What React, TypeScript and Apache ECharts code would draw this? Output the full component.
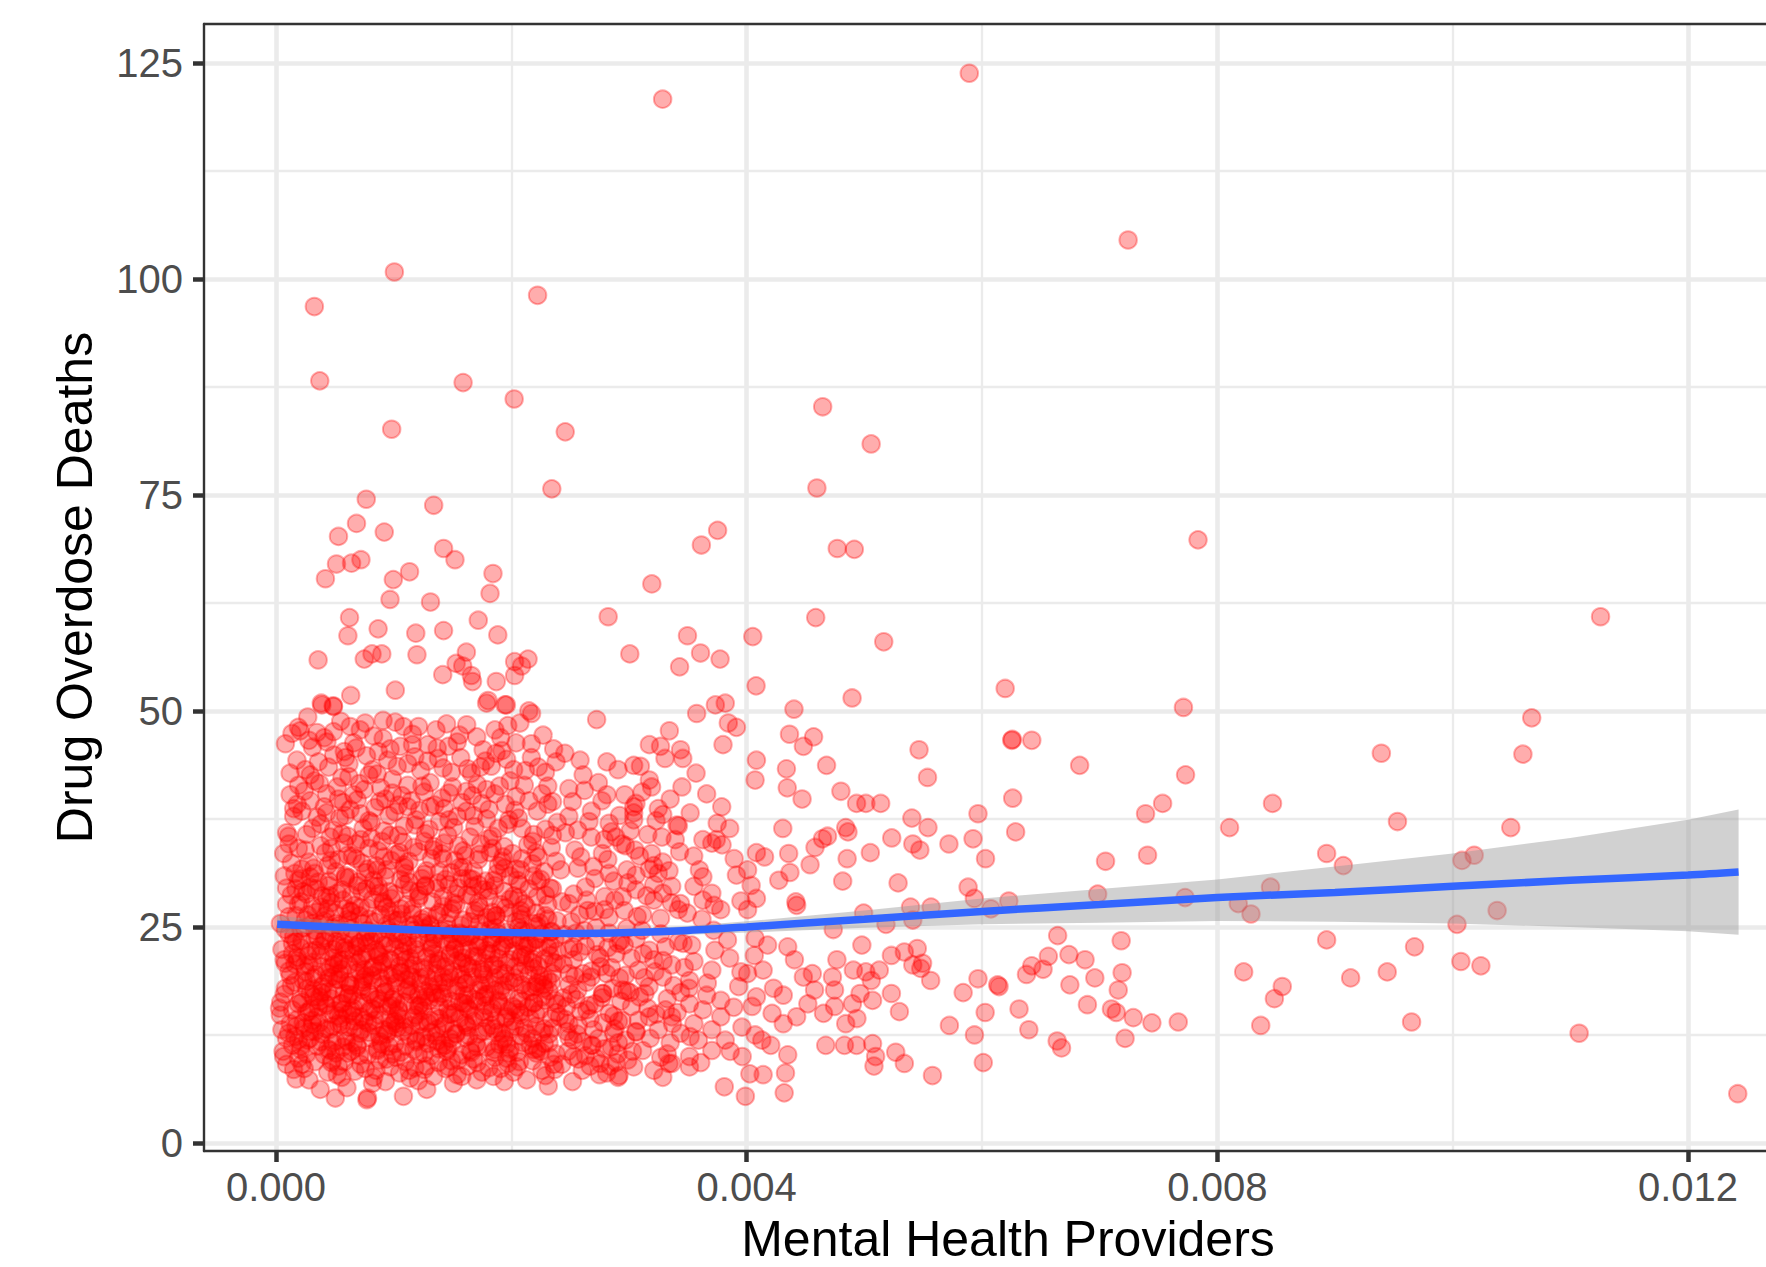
import React, { useEffect, useRef } from "react";
import * as echarts from "echarts";

const FONT = "'Liberation Sans', Arial, Helvetica, sans-serif";

const X_TICKS = [0, 0.004, 0.008, 0.012];
const X_MINOR = [0.002, 0.006, 0.01];
const Y_TICKS = [0, 25, 50, 75, 100, 125];
const Y_MINOR = [12.5, 37.5, 62.5, 87.5, 112.5];
const X_LIMITS = [-0.000612, 0.013054];
const Y_LIMITS = [-0.93, 129.5];

// smoother (fit + 95% band)
const smoothX = [0.00001, 0.0005, 0.001, 0.0015, 0.002, 0.0025, 0.003, 0.0035, 0.004, 0.005, 0.006, 0.007, 0.008, 0.009, 0.010, 0.011, 0.012, 0.01243];
const smoothY = [25.3, 25.0, 24.75, 24.5, 24.35, 24.25, 24.35, 24.6, 25.0, 25.9, 26.8, 27.6, 28.4, 29.0, 29.7, 30.4, 31.0, 31.35];
const smoothUpper = [26.3, 25.65, 25.2, 24.85, 24.65, 24.6, 24.75, 25.1, 25.65, 26.9, 28.3, 29.4, 30.5, 32.0, 33.5, 35.3, 37.4, 38.6];
const smoothLower = [24.3, 24.35, 24.3, 24.15, 24.05, 23.9, 23.95, 24.1, 24.35, 24.9, 25.3, 25.5, 25.7, 25.6, 25.4, 25.0, 24.5, 24.1];

// points above 50 deaths
const upperPoints = [
  [.003286,120.8],[.005892,123.8],[.007242,104.5],[.001006,100.8],[.000326,96.8],[.002223,98.1],
  [.000372,88.2],[.00159,88.0],[.002024,86.1],[.000983,82.6],[.002458,82.3],[.004646,85.2],[.005058,80.9],
  [.002344,75.7],[.004597,75.8],[.000767,74.5],[.00134,73.8],[.000684,71.7],[.00092,70.7],[.000531,70.2],
  [.003753,70.9],[.003615,69.2],[.007836,69.8],[.00477,68.8],[.004915,68.7],[.001424,68.8],[.001521,67.5],
  [.000514,67.0],[.000642,67.1],[.000722,67.5],[.00042,65.3],[.000997,65.2],[.001135,66.1],[.001844,65.9],
  [.001819,63.6],[.000969,62.9],[.001313,62.6],[.003194,64.7],[.002823,60.9],[.004587,60.8],[.000625,60.8],
  [.000611,58.7],[.000868,59.5],[.001188,59.0],[.001424,59.3],[.001719,60.5],[.001885,58.8],
  [.000358,55.9],[.00075,56.0],[.000816,56.6],[.000899,56.6],[.001198,56.5],[.001618,56.8],[.001531,55.5],[.001587,55.2],
  [.001417,54.2],[.00166,54.1],[.00167,53.4],[.001872,53.4],[.002028,55.7],[.002142,56.0],[.002087,55.2],[.002028,54.1],
  [.003497,58.7],[.003007,56.6],[.00343,55.1],[.003608,56.7],[.003774,56.0],[.004052,58.6],[.00408,52.9],
  [.005165,58.0],[.011257,60.9],
  [.000635,51.8],[.001014,52.4],[.000385,50.9],[.000486,50.6],[.001802,51.2],[.001958,50.7],[.002149,50.0],
  [.00039,50.7],[.000489,50.5],[.00179,50.9],[.001946,50.7],
  [.004896,51.5],[.006197,52.6],[.007712,50.4],[.004402,50.2],[.003734,50.7],[.003818,50.9]
];

// dense block, x < 0.0012
const corePointsA = [
  [.000136,47.4],[.00019,48.1],[.00008,46.2],[.000178,44.3],[.000192,41.4],[.00012,42.8],
  [.00015,37.8],[.000107,35.5],[.00018,39.2],[.000065,33.5],[.00016,31.2],[.00011,34.6],[.00019,30.4],
  [.000037,25.4],[.00013,28.7],[.00017,26.3],[.00009,29.5],[.00019,27.6],
  [.000079,20.8],[.00014,23.1],[.00005,22.4],[.00018,21.5],[.00011,24.2],
  [.00016,18.6],[.00007,17.2],[.00012,19.4],[.00019,16.1],[.00003,15.6],
  [.000037,14.8],[.000107,12.7],[.000065,10.0],[.00017,13.5],[.00014,11.3],[.00015,8.5],[.00009,9.1],

  [.000206,47.7],[.000348,47.5],[.00027,49.3],[.00031,45.8],
  [.000291,42.6],[.00036,44.1],[.00024,40.7],[.00033,41.9],
  [.00022,38.4],[.00038,36.9],[.00029,39.6],[.00026,35.7],[.00035,37.7],
  [.000249,33.9],[.00032,31.8],[.00038,34.4],[.00021,30.6],[.00028,32.5],[.00036,30.2],
  [.00023,29.1],[.00031,27.4],[.00039,28.6],[.00025,25.8],[.00034,26.7],[.00021,27.9],[.00037,25.3],[.00029,29.6],
  [.00022,23.4],[.00033,24.6],[.00027,21.7],[.00038,22.8],[.00024,20.5],[.00031,20.9],[.00035,23.9],[.00029,22.2],[.00021,24.8],
  [.00026,18.7],[.00034,19.5],[.00039,17.4],[.00022,16.3],[.00030,15.6],[.00037,16.9],[.00025,19.8],[.00032,17.8],[.00028,15.2],
  [.00023,13.9],[.00035,14.6],[.00029,12.1],[.00038,11.7],[.00021,10.8],[.00033,12.9],[.00026,10.3],[.00031,14.2],
  [.000376,6.2],[.00024,8.6],[.00033,9.4],[.00028,7.3],

  [.000489,47.6],[.000433,46.4],[.00055,48.8],[.00058,45.3],
  [.000447,43.5],[.00052,41.2],[.00059,44.6],[.00043,40.4],[.00056,42.3],
  [.00041,38.9],[.00049,36.2],[.00057,39.4],[.00046,35.4],[.00054,37.6],
  [.00042,33.6],[.00051,31.4],[.00058,34.7],[.00045,30.3],[.00053,32.8],[.00047,34.1],[.00059,30.9],
  [.00043,28.4],[.00050,26.6],[.00056,29.3],[.00041,25.7],[.00047,27.8],[.00054,25.2],[.00059,27.1],[.00045,29.8],[.00052,28.9],
  [.00042,23.7],[.00049,21.4],[.00055,24.5],[.00046,20.3],[.00058,22.6],[.00051,23.3],[.00044,22.1],[.00053,20.8],[.00048,24.9],[.00057,21.2],
  [.00041,18.4],[.00047,16.7],[.00054,19.6],[.00050,15.3],[.00058,17.3],[.00043,15.9],[.00052,18.9],[.00056,16.2],[.00045,19.1],[.00049,17.8],
  [.00042,13.2],[.00048,11.6],[.00055,14.4],[.00051,10.4],[.00059,12.3],[.00044,10.9],[.00053,13.8],[.00046,14.9],[.00057,11.1],
  [.000504,5.2],[.00044,8.2],[.00056,7.6],[.00048,9.5],[.00053,8.9],

  [.000631,48.2],[.000716,47.8],[.000758,48.6],[.00068,45.7],
  [.00062,43.9],[.00071,41.6],[.00077,44.8],[.00066,40.3],
  [.00063,38.6],[.00074,36.4],[.00069,39.7],[.00079,37.3],[.00061,35.5],[.00072,38.1],
  [.00065,33.2],[.00076,31.3],[.00068,34.6],[.00062,30.7],[.00073,32.4],[.00079,34.1],[.00070,30.2],
  [.00064,28.7],[.00071,26.3],[.00077,29.4],[.00061,25.9],[.00067,27.5],[.00074,25.4],[.00069,29.8],[.00078,27.2],[.00063,26.8],
  [.00066,23.6],[.00072,21.3],[.00078,24.4],[.00062,20.6],[.00069,22.7],[.00075,20.1],[.00064,24.8],[.00071,23.1],[.00077,21.9],[.00060,22.3],
  [.00063,18.2],[.00070,16.4],[.00076,19.3],[.00066,15.6],[.00073,17.7],[.00079,15.2],[.00061,16.8],[.00068,19.7],[.00074,18.6],[.00065,17.1],
  [.00062,13.4],[.00069,11.3],[.00075,14.2],[.00064,10.6],[.00071,12.7],[.00078,10.2],[.00066,14.7],[.00073,13.1],[.00060,11.8],
  [.000603,6.4],[.000772,5.0],[.000778,5.2],[.00067,8.3],[.00072,9.1],

  [.00083,47.1],[.00091,48.9],[.00097,45.6],
  [.00082,43.2],[.00089,41.1],[.00095,44.3],[.00086,42.7],[.00099,40.5],
  [.00084,38.8],[.00092,36.1],[.00088,39.5],[.00096,37.9],[.00081,35.3],
  [.00087,33.8],[.00094,31.6],[.00083,30.4],[.00090,34.9],[.00098,32.7],[.00085,32.1],[.00093,30.8],
  [.00082,28.2],[.00089,26.4],[.00096,29.1],[.00084,25.6],[.00091,27.7],[.00099,25.9],[.00087,29.7],[.00094,27.3],
  [.00081,23.4],[.00088,21.6],[.00095,24.7],[.00083,20.4],[.00092,22.9],[.00098,21.1],[.00086,24.2],[.00090,20.7],[.00097,23.1],[.00085,22.4],
  [.00082,18.8],[.00089,16.1],[.00096,19.4],[.00084,15.4],[.00093,17.5],[.00099,16.6],[.00087,19.9],[.00091,18.3],[.00080,17.2],[.00095,15.8],
  [.00083,13.6],[.00090,11.4],[.00097,14.3],[.00086,10.7],[.00094,12.6],[.00081,12.2],[.00088,14.8],[.00099,10.3],[.00092,13.1],
  [.00085,8.4],[.00093,7.1],[.00088,9.6],[.00097,8.8],[.00082,6.9],

  [.001013,48.7],[.001083,48.2],[.001055,45.9],[.00116,47.3],
  [.00103,43.6],[.00112,41.4],[.00118,44.7],[.00107,40.2],
  [.00101,38.3],[.00109,36.7],[.00115,39.6],[.00104,35.6],[.00119,37.4],[.00112,38.9],
  [.00102,33.4],[.00110,31.2],[.00117,34.2],[.00106,30.5],[.00113,32.6],[.00108,34.8],
  [.00101,28.8],[.00107,26.5],[.00114,29.2],[.00104,25.8],[.00111,27.6],[.00118,25.3],[.00109,29.9],[.00116,27.1],
  [.00103,23.5],[.00110,21.2],[.00117,24.6],[.00105,20.5],[.00112,22.8],[.00119,21.7],[.00101,24.3],[.00108,23.1],[.00114,20.2],
  [.00102,18.5],[.00109,16.3],[.00116,19.2],[.00104,15.5],[.00111,17.6],[.00118,15.9],[.00106,19.8],[.00113,18.1],[.00100,16.9],[.00115,17.2],
  [.00103,13.3],[.00110,11.2],[.00117,14.5],[.00106,10.5],[.00113,12.4],[.00119,11.7],[.00101,14.1],[.00108,12.9],
  [.001083,5.4],[.00105,8.1],[.00114,7.5],[.00110,9.4],[.00118,8.7]
];

// dense block, 0.0012 <= x < 0.0024
const corePointsB = [
  [.001211,48.2],[.00129,46.1],[.00136,47.8],
  [.00123,43.1],[.00131,41.7],[.00138,44.5],[.00126,40.6],
  [.00122,38.5],[.00130,36.3],[.00135,39.1],[.00127,35.8],[.00139,37.2],
  [.00121,33.7],[.00128,31.5],[.00134,34.3],[.00124,30.6],[.00132,32.9],[.00138,30.1],[.00126,34.9],
  [.00122,28.6],[.00129,26.2],[.00136,29.4],[.00125,25.5],[.00133,27.9],[.00139,26.7],[.00127,29.8],[.00131,25.1],
  [.00121,23.7],[.00128,21.5],[.00135,24.1],[.00124,20.3],[.00132,22.5],[.00138,21.3],[.00126,24.8],[.00130,23.2],[.00137,20.7],
  [.00123,18.4],[.00130,16.5],[.00136,19.6],[.00125,15.3],[.00133,17.4],[.00139,15.8],[.00121,17.1],[.00128,19.3],[.00134,18.7],
  [.00122,13.7],[.00129,11.5],[.00135,14.6],[.00126,10.4],[.00132,12.8],[.00138,10.9],[.00124,12.3],[.00131,14.2],[.00137,13.2],
  [.001281,6.2],[.00126,8.5],[.00134,7.7],[.00138,9.3],

  [.00145,48.5],[.001465,45.9],[.00156,47.2],
  [.00142,43.4],[.00150,41.2],[.00157,44.6],[.00147,40.5],
  [.00143,38.7],[.00151,36.5],[.00158,39.4],[.00146,35.6],[.00154,37.8],
  [.00141,33.5],[.00149,31.3],[.00155,34.4],[.00144,30.5],[.00152,32.7],[.00159,31.9],
  [.00142,28.5],[.00148,26.6],[.00155,29.5],[.00145,25.4],[.00153,27.6],[.00159,25.8],[.00147,29.9],[.00150,27.1],
  [.00141,23.6],[.00148,21.7],[.00156,24.3],[.00144,20.4],[.00152,22.6],[.00158,20.9],[.00146,24.7],[.00150,23.4],[.00154,21.1],
  [.00143,18.6],[.00149,16.4],[.00157,19.5],[.00146,15.5],[.00153,17.6],[.00159,16.2],[.00141,17.3],[.00148,19.1],[.00155,18.2],
  [.00142,13.5],[.00150,11.6],[.00156,14.4],[.00145,10.6],[.00153,12.7],[.00158,10.2],[.00147,14.9],[.00151,13.1],
  [.001508,6.9],[.00144,8.6],[.00154,7.9],[.00149,9.5],

  [.001621,48.4],[.001706,47.0],[.00176,45.5],
  [.00163,43.3],[.00171,41.5],[.00178,44.2],[.00167,40.2],
  [.00162,38.4],[.00169,36.6],[.00175,39.3],[.00165,35.4],[.00179,37.5],
  [.00161,33.3],[.00168,31.4],[.00174,34.6],[.00164,30.6],[.00172,32.8],[.00178,30.3],
  [.00162,28.7],[.00169,26.5],[.00176,29.3],[.00165,25.6],[.00172,27.8],[.00179,26.1],[.00167,29.7],
  [.00161,23.8],[.00168,21.6],[.00175,24.5],[.00163,20.4],[.00171,22.7],[.00177,20.8],[.00166,24.1],[.00173,23.3],[.00179,21.9],
  [.00162,18.5],[.00169,16.6],[.00176,19.5],[.00164,15.4],[.00172,17.7],[.00178,15.9],[.00160,17.1],[.00167,19.2],[.00174,18.3],
  [.00163,13.4],[.00170,11.5],[.00177,14.5],[.00165,10.7],[.00172,12.6],[.00179,11.1],[.00161,12.2],[.00168,14.1],
  [.001706,7.3],[.00163,8.9],[.00175,8.2],[.00168,9.7],

  [.001861,47.8],[.00192,45.4],[.00197,48.3],
  [.00183,43.6],[.00190,41.3],[.00196,44.4],[.00186,40.4],
  [.00181,38.6],[.00189,36.4],[.00195,39.2],[.00184,35.5],[.00198,37.4],
  [.00182,33.6],[.00188,31.2],[.00194,34.3],[.00185,30.4],[.00192,32.6],[.00199,30.9],
  [.00181,28.4],[.00187,26.3],[.00194,29.1],[.00184,25.7],[.00191,27.6],[.00198,26.6],[.00186,29.8],
  [.00183,23.6],[.00189,21.4],[.00196,24.4],[.00185,20.6],[.00192,22.8],[.00199,21.2],[.00187,24.9],[.00194,23.1],
  [.00182,18.4],[.00189,16.5],[.00195,19.6],[.00184,15.6],[.00191,17.6],[.00198,15.3],[.00186,19.1],[.00193,18.2],[.00180,17.2],
  [.00183,13.6],[.00190,11.4],[.00196,14.6],[.00185,10.5],[.00192,12.7],[.00199,10.9],[.00187,14.2],[.00194,12.1],
  [.001847,7.7],[.00191,8.6],[.00197,9.2],[.00186,9.9],

  [.002073,48.6],[.002172,49.7],[.00204,46.3],
  [.00202,43.2],[.00211,41.4],[.00217,44.6],
  [.00203,38.5],[.00209,36.4],[.00215,39.6],[.00219,35.7],
  [.00201,33.5],[.00208,31.6],[.00214,34.5],[.00205,30.4],[.00218,32.3],
  [.00202,28.6],[.00209,26.4],[.00215,29.4],[.00204,25.6],[.00211,27.7],[.00219,25.4],[.00207,29.9],
  [.00201,23.6],[.00208,21.5],[.00214,24.4],[.00203,20.4],[.00211,22.7],[.00218,20.9],[.00206,24.9],[.00216,23.1],
  [.00202,18.6],[.00209,16.4],[.00215,19.5],[.00204,15.5],[.00212,17.7],[.00219,16.2],[.00207,19.8],[.00217,18.1],
  [.00203,13.5],[.00210,11.6],[.00216,14.4],[.00205,10.5],[.00213,12.7],[.00219,10.8],[.00208,14.8],
  [.00213,7.3],[.00205,8.8],[.00218,9.5],

  [.00227,47.2],[.00236,45.6],
  [.00223,43.5],[.00231,41.3],[.00238,44.1],
  [.00222,38.4],[.00229,36.3],[.00235,39.5],[.00239,37.1],
  [.00221,33.6],[.00228,31.4],[.00234,34.2],[.00225,30.5],[.00238,32.6],
  [.00222,28.5],[.00229,26.3],[.00235,29.4],[.00224,25.5],[.00231,27.6],[.00239,25.7],
  [.00221,23.5],[.00228,21.3],[.00234,24.5],[.00223,20.5],[.00231,22.6],[.00238,20.8],[.00226,24.2],
  [.00222,18.5],[.00229,16.5],[.00235,19.6],[.00224,15.4],[.00232,17.6],[.00239,16.1],[.00227,19.2],
  [.00221,13.5],[.00228,11.5],[.00234,14.4],[.00225,10.6],[.00232,12.6],[.00238,10.3],
  [.002314,6.6],[.00226,8.4],[.00236,9.1]
];

// extra overlap inside the darkest part of the cloud
const corePointsC = [
  [.00019,9.8],[.00035,11.2],[.00047,9.3],[.00061,10.4],[.00076,8.6],[.00089,11.7],[.00102,9.9],[.00117,10.8],[.00128,8.9],
  [.00141,11.4],[.00155,9.6],[.00166,10.5],[.00181,8.7],[.00193,11.9],[.00207,9.4],[.00222,10.9],[.00237,8.5],
  [.00012,13.8],[.00026,15.1],[.00039,12.6],[.00053,14.7],[.00067,13.3],[.00081,15.6],[.00095,12.9],[.00108,14.3],[.00121,15.8],
  [.00136,12.4],[.00149,14.9],[.00162,13.6],[.00176,15.2],[.00188,12.8],[.00201,14.1],[.00214,15.7],[.00228,13.2],[.00241,14.6],
  [.00008,17.9],[.00023,18.8],[.00037,16.4],[.00049,19.3],[.00062,17.2],[.00074,18.9],[.00087,16.7],[.00099,19.6],[.00111,17.8],
  [.00124,16.2],[.00138,18.4],[.00151,19.8],[.00163,17.1],[.00177,18.6],[.00189,16.3],[.00203,19.1],[.00216,17.5],[.00231,18.9],
  [.00014,21.9],[.00028,20.6],[.00041,23.4],[.00054,21.1],[.00068,22.8],[.00082,20.3],[.00093,23.7],[.00106,21.6],[.00119,22.4],
  [.00133,20.8],[.00146,23.2],[.00159,21.4],[.00172,22.9],[.00184,20.5],[.00197,23.5],[.00209,21.8],[.00223,22.6],[.00236,20.9],
  [.00011,26.2],[.00024,24.9],[.00038,27.3],[.00051,25.4],[.00064,26.8],[.00078,24.6],[.00091,27.9],[.00103,25.7],[.00116,26.5],
  [.00129,24.3],[.00142,27.4],[.00157,25.2],[.00169,26.9],[.00182,24.7],[.00195,27.2],[.00208,25.9],[.00221,26.6],[.00234,24.4],
  [.00017,29.4],[.00033,31.2],[.00046,28.6],[.00059,30.7],[.00073,29.1],[.00086,31.6],[.00098,28.3],[.00113,30.2],[.00127,29.7],
  [.00139,31.4],[.00153,28.8],[.00167,30.5],[.00181,29.2],[.00194,31.8],[.00206,28.4],[.00219,30.9],[.00233,29.5],
  [.00016,12.3],[.00031,13.7],[.00044,17.5],[.00057,15.4],[.00071,19.9],[.00084,14.2],[.00097,21.3],[.00109,13.4],[.00123,19.1],
  [.00137,16.8],[.00148,21.9],[.00161,13.9],[.00174,20.1],[.00186,17.7],[.00199,13.1],[.00212,20.6],[.00226,16.9],[.00239,22.2],
  [.00021,16.6],[.00034,22.3],[.00048,13.5],[.00063,18.3],[.00077,23.1],[.00092,17.4],[.00104,15.3],[.00118,22.9],[.00131,18.1],
  [.00144,13.8],[.00158,22.1],[.00171,16.4],[.00185,23.8],[.00198,18.7],[.00211,13.3],[.00224,19.4],[.00238,15.1],
  [.00244,20.7],[.00251,17.2],[.00257,13.6],[.00263,22.8],[.00268,19.9],[.00272,9.8],[.00277,16.8],[.00282,22.6],[.00287,14.7],
  [.00292,19.1],[.00297,11.9],[.00302,21.4],[.00308,14.2],[.00261,11.7],[.00284,8.9],[.00247,12.9]
];

// further overlap that makes the core read as solid red
const corePointsD = [
  [.00006,10.6],[.00022,9.1],[.00041,10.2],[.00058,9.4],[.00069,11.1],[.00094,9.7],[.00113,8.4],[.00132,10.1],[.00147,8.8],
  [.00171,9.3],[.00186,10.8],[.00202,8.2],[.00216,11.3],[.00233,9.9],
  [.00009,12.1],[.00027,11.9],[.00045,13.1],[.00066,11.6],[.00079,12.8],[.00101,11.5],[.00115,13.6],[.00127,12.2],[.00143,11.3],
  [.00164,12.4],[.00179,13.3],[.00196,11.4],[.00218,12.1],[.00235,13.3],
  [.00004,16.3],[.00018,14.3],[.00036,15.7],[.00055,16.1],[.00072,14.6],[.00085,16.6],[.00103,14.8],[.00122,15.9],[.00139,14.4],
  [.00156,16.3],[.00169,14.7],[.00192,15.8],[.00206,16.7],[.00221,14.9],[.00237,16.5],
  [.00013,18.2],[.00029,17.3],[.00043,19.7],[.00061,18.6],[.00079,17.4],[.00096,18.1],[.00114,19.3],[.00126,17.6],[.00142,19.2],
  [.00161,18.4],[.00178,17.2],[.00191,19.4],[.00209,18.3],[.00228,17.9],
  [.00007,21.2],[.00021,22.6],[.00038,21.7],[.00052,22.9],[.00069,20.9],[.00087,21.8],[.00101,22.7],[.00117,20.6],[.00134,21.9],
  [.00152,22.4],[.00167,20.2],[.00183,21.9],[.00202,22.2],[.00218,21.3],[.00233,22.9],
  [.00015,23.9],[.00031,25.4],[.00046,24.3],[.00063,25.7],[.00076,23.8],[.00094,25.2],[.00108,24.1],[.00124,25.9],[.00141,24.6],
  [.00157,23.7],[.00173,25.4],[.00189,24.2],[.00204,23.8],[.00222,25.1],[.00237,23.6],
  [.00009,27.6],[.00026,28.8],[.00042,26.3],[.00057,28.1],[.00072,27.3],[.00088,28.9],[.00106,27.1],[.00121,28.3],[.00137,26.4],
  [.00151,27.8],[.00166,28.6],[.00184,26.7],[.00199,28.2],[.00213,27.3],[.00229,28.7],
  [.00013,32.4],[.00029,30.8],[.00044,32.1],[.00061,33.3],[.00078,31.7],[.00092,33.1],[.00109,32.2],[.00126,31.1],[.00142,32.9],
  [.00158,30.6],[.00173,33.4],[.00189,32.1],[.00204,31.7],[.00223,33.1],
  [.00017,7.4],[.00052,7.9],[.00083,7.6],[.00121,7.2],[.00158,7.7],[.00194,7.1],[.00229,7.8],
  [.00011,19.9],[.00024,13.3],[.00039,20.4],[.00056,13.7],[.00073,21.6],[.00088,12.4],[.00101,19.1],[.00119,14.8],[.00133,22.8],
  [.00146,17.9],[.00162,20.7],[.00176,12.9],[.00191,22.4],[.00207,15.1],[.00221,23.6],[.00234,18.6],
  [.00017,23.3],[.00032,16.9],[.00049,22.4],[.00064,15.3],[.00081,19.4],[.00098,15.9],[.00112,23.8],[.00129,13.9],[.00147,19.6],
  [.00163,15.6],[.00179,22.3],[.00195,14.4],[.00212,21.7],[.00226,12.8],
  [.00243,27.9],[.00249,22.4],[.00254,19.3],[.00259,15.2],[.00265,26.9],[.00269,11.3],[.00273,21.8],[.00278,17.3],[.00283,26.1],
  [.00288,13.2],[.00293,23.4],[.00298,17.6],[.00303,10.6],[.00307,26.2],[.00312,21.9],[.00316,15.6],[.00322,19.8],[.00327,9.9],
  [.00331,22.7],[.00337,13.8],[.00243,9.1],[.00257,9.7],[.00275,7.9],[.00289,9.3]
];

// more overlap in the upper half of the cloud and in its right shoulder
const corePointsE = [
  [.00007,30.9],[.00019,34.1],[.00031,36.4],[.00043,38.2],[.00056,35.8],[.00068,32.9],[.00081,37.1],[.00093,39.8],[.00105,33.6],
  [.00118,36.8],[.00131,38.9],[.00143,34.7],[.00156,31.9],[.00168,37.9],[.00181,35.2],[.00193,33.1],[.00206,37.6],[.00218,34.9],[.00231,39.2],
  [.00012,40.3],[.00025,43.2],[.00037,41.6],[.00049,44.9],[.00062,42.4],[.00075,40.9],[.00087,45.3],[.00099,42.1],[.00112,43.9],
  [.00124,41.3],[.00137,45.7],[.00149,42.9],[.00162,40.7],[.00174,43.5],[.00187,45.1],[.00199,41.9],[.00212,43.1],[.00226,40.4],
  [.00009,35.9],[.00022,31.7],[.00034,29.4],[.00047,32.7],[.00059,37.9],[.00072,35.1],[.00084,29.7],[.00097,35.6],[.00109,31.9],
  [.00121,29.1],[.00134,33.9],[.00147,37.4],[.00159,33.8],[.00172,29.9],[.00184,34.1],[.00197,36.9],[.00209,32.9],[.00222,30.3],[.00235,35.6],
  [.00015,38.7],[.00028,46.6],[.00041,46.9],[.00053,39.8],[.00066,46.3],[.00079,42.6],[.00091,46.8],[.00104,39.1],[.00116,46.1],
  [.00129,44.2],[.00141,39.9],[.00154,46.4],[.00166,42.8],[.00179,40.9],[.00191,46.9],[.00204,40.1],[.00217,46.2],[.00229,42.9],
  [.00005,13.1],[.00016,20.7],[.00027,26.4],[.00039,18.1],[.00051,11.8],[.00062,24.1],[.00074,16.2],[.00086,10.9],[.00097,26.8],
  [.00107,19.7],[.00119,11.9],[.00131,25.3],[.00142,16.9],[.00153,12.6],[.00165,23.9],[.00176,19.8],[.00187,26.3],[.00198,10.4],
  [.00209,24.6],[.00221,18.1],[.00232,11.6],
  [.00008,24.7],[.00019,11.9],[.00032,19.1],[.00044,27.1],[.00056,20.1],[.00067,14.1],[.00079,25.9],[.00091,20.9],[.00102,13.8],
  [.00114,25.1],[.00126,20.1],[.00137,11.8],[.00149,24.2],[.00161,16.1],[.00173,27.3],[.00185,13.2],[.00196,20.9],[.00208,26.9],
  [.00219,16.2],[.00231,25.9],
  [.00242,31.6],[.00246,35.9],[.00253,28.8],[.00259,33.1],[.00266,37.2],[.00271,30.6],[.00277,39.6],[.00282,32.8],[.00288,28.1],
  [.00294,34.6],[.00299,30.1],[.00304,38.9],[.00309,33.2],[.00315,28.6],[.00321,32.1],[.00328,35.4],[.00336,27.8],[.00342,36.7],
  [.00244,16.8],[.00249,12.2],[.00255,24.3],[.00261,19.6],[.00266,15.9],[.00272,24.9],[.00279,10.9],[.00285,20.3],[.00291,14.1],
  [.00296,22.9],[.00301,17.4],[.00306,12.8],[.00311,24.6],[.00317,18.1],[.00323,14.9],[.00329,21.1],[.00334,9.2],[.00341,15.1],
  [.00346,23.1],[.00351,17.9]
];

// last layer in the 10-24 band, where the cloud is solid
const corePointsF = [
  [.00014,15.4],[.00026,17.8],[.00037,13.9],[.00049,20.6],[.00061,14.9],[.00073,18.1],[.00086,22.1],[.00098,13.6],[.00111,18.9],
  [.00123,14.1],[.00135,17.3],[.00148,12.1],[.00159,18.9],[.00171,21.6],[.00183,15.1],[.00196,17.4],[.00208,12.4],[.00219,20.2],
  [.00018,21.1],[.00029,12.9],[.00042,16.1],[.00054,18.9],[.00066,21.9],[.00078,13.9],[.00089,19.1],[.00102,16.3],[.00114,21.4],
  [.00127,16.9],[.00139,21.1],[.00152,15.1],[.00164,22.4],[.00177,16.9],[.00189,20.1],[.00201,15.8],[.00214,22.9],[.00227,18.3],
  [.00021,11.2],[.00033,23.6],[.00046,10.7],[.00058,23.1],[.00071,10.1],[.00083,23.9],[.00096,11.2],[.00108,22.1],[.00121,10.2],
  [.00134,23.6],[.00146,10.9],[.00158,24.1],[.00171,11.1],[.00183,23.1],[.00196,9.8],[.00208,23.4],[.00221,10.4],[.00233,21.7]
];

// 0.0024 <= x < 0.004
const midPoints = [
  [.002725,49.0],[.003575,49.7],[.003844,48.6],[.003913,48.1],[.003799,46.1],[.003343,47.7],[.003438,45.5],[.003173,46.1],[.003268,45.9],[.003457,44.5],[.003306,44.5],
  [.002455,45.1],[.002584,44.3],[.002812,44.1],[.002907,43.2],[.00304,43.7],[.003097,43.6],[.003173,42.0],[.003192,41.2],[.00345,41.2],
  [.002489,41.0],[.002622,40.8],[.002812,40.3],[.002964,40.3],[.003059,39.3],[.003249,38.7],[.003287,38.0],[.003408,36.8],[.003393,35.1],
  [.00304,38.2],[.00304,37.4],[.002489,37.8],[.002565,36.2],[.002679,35.4],[.00285,36.0],[.002888,35.4],[.002831,37.0],
  [.003788,38.9],[.00375,37.0],[.003856,36.4],[.003742,35.1],[.003628,35.1],[.003704,34.7],[.003791,34.5],
  [.003051,33.9],[.003192,33.5],[.003287,32.5],[.003173,31.7],[.003249,31.2],[.002983,31.6],[.002774,33.5],[.002698,32.0],[.002565,31.8],[.002831,31.2],
  [.003894,32.9],[.004008,31.6],[.003913,31.0],[.004038,29.8],[.003951,28.0],[.004083,28.3],[.004008,27.0],
  [.003598,31.6],[.003628,30.8],[.003552,29.7],[.003704,28.9],[.003723,27.5],[.00378,27.0],[.003628,28.1],[.003438,27.7],[.003419,27.0],
  [.003287,28.9],[.003211,28.1],[.003363,29.7],[.003059,29.3],[.002945,28.5],[.002793,28.5],[.002641,28.1],[.002489,27.7],[.002793,27.0],
  [.003116,26.4],[.003268,26.0],[.003496,26.6],
  [.00252,39.5],[.00261,42.6],[.00268,38.4],[.00274,41.7],[.00279,35.1],[.00292,37.9],[.00297,34.4],[.00301,36.1],[.00311,40.6],[.00316,35.7],
  [.00323,37.3],[.00335,39.8],[.00343,33.7],[.00352,38.2],[.00357,42.8],[.00366,40.4],[.00254,33.9],[.00263,29.6],[.00271,26.8],[.00287,30.3],
  [.00296,26.9],[.00306,31.0],[.00321,29.9],[.00334,31.5],[.00355,33.2],[.00362,25.9],[.00251,25.6],[.00258,26.4],
  [.002528,22.7],[.002717,23.3],[.002907,23.1],[.003173,22.3],[.003419,23.3],[.003533,22.9],[.003837,23.5],[.004072,23.7],
  [.002528,21.2],[.002755,21.4],[.003211,21.2],[.003363,20.6],[.003552,21.0],[.003704,20.0],[.003856,21.4],[.003951,19.8],
  [.002489,19.6],[.002679,19.2],[.003078,20.0],[.003287,19.2],[.003514,18.8],[.003666,18.5],[.00378,16.5],[.003932,18.1],
  [.002565,17.7],[.002774,17.3],[.002945,17.7],[.003135,17.3],[.003325,16.7],[.003514,16.1],[.003628,15.4],[.00378,14.6],
  [.00247,15.8],[.002641,15.4],[.002831,15.0],[.003021,15.8],[.003173,14.6],[.003363,14.6],[.003552,13.8],[.003704,13.1],
  [.002489,13.8],[.002698,13.1],[.002869,12.7],[.003059,12.9],[.003249,13.1],[.003438,12.7],[.00359,11.9],[.003818,11.9],
  [.002528,11.9],[.002679,11.3],[.002907,10.3],[.003116,10.7],[.003325,10.3],[.003514,10.0],[.003704,10.7],
  [.002528,10.0],[.002755,9.2],[.002907,7.6],[.002915,7.8],[.00304,8.8],[.003211,8.4],[.003363,9.2],[.003514,8.8],[.002603,8.4],[.003287,7.6],
  [.00245,24.1],[.00262,24.6],[.00283,24.3],[.00298,24.8],[.00258,22.1],[.00276,20.4],[.00289,21.9],[.00297,19.4],[.00249,18.3],[.00264,18.6],
  [.00281,19.6],[.00293,16.4],[.00255,16.6],[.00271,16.1],[.00286,17.9],[.00246,14.3],[.00267,14.4],[.00278,13.9],[.00294,14.2],[.00256,12.6],
  [.00274,12.1],[.00291,11.6],[.00248,10.6],[.00263,10.1],[.00285,11.1],[.00299,9.6],[.00267,8.9],[.00281,8.1],[.00252,7.1],
  [.00306,23.6],[.00313,19.1],[.00327,24.2],[.00338,18.2],[.00347,20.3],[.00309,16.9],[.00331,15.4],[.00344,17.4],[.00318,12.1],[.00352,12.3],
  [.00366,17.1],[.00373,22.3],[.00389,15.7],[.00396,13.4],[.00361,9.3],[.00386,10.6],[.00335,11.6],[.00372,24.6]
];

// 0.004 <= x < 0.0062
const eastPoints = [
  [.004364,47.3],[.004569,47.0],[.004482,45.9],[.004083,44.3],[.004338,43.3],[.004679,43.7],[.005465,45.5],[.005537,42.3],
  [.004072,42.0],[.004345,41.1],[.004471,39.8],[.004801,40.7],[.004934,39.3],[.005013,39.3],[.005139,39.3],[.005966,38.1],
  [.004307,36.4],[.004645,35.2],[.004842,36.5],[.004861,36.0],[.004687,35.5],[.005404,37.6],[.005541,36.5],[.005233,35.3],
  [.005412,34.6],[.005472,33.9],[.005719,34.6],[.005924,35.2],[.00603,32.9],
  [.004083,33.6],[.004152,33.1],[.004357,33.5],[.004581,34.2],[.004539,32.2],[.004368,31.3],[.004273,30.4],[.004854,32.9],
  [.005051,33.6],[.004816,30.3],[.005287,30.1],[.005882,29.6],[.005935,28.3],[.006076,27.1],
  [.004425,27.5],[.004418,27.9],[.004994,26.6],[.005393,27.3],[.005412,25.8],[.005567,27.3],[.005184,25.3],[.004736,24.7],
  [.006133,18.3],[.006145,18.1],[.005966,19.0],[.00584,17.4],[.006027,15.1],[.005723,13.6],[.005936,12.5],[.006011,9.3],[.005579,7.8],
  [.004979,22.9],[.00523,21.7],[.00534,22.1],[.00545,22.5],[.005412,20.6],[.005495,20.8],[.005564,18.8],[.00548,20.2],[.00523,17.3],[.005298,15.2],
  [.004907,20.0],[.005013,19.8],[.005127,20.0],[.005059,18.8],[.004964,17.3],[.00507,16.5],[.004937,14.4],[.00507,11.5],[.005096,10.0],
  [.005267,10.5],[.00534,9.2],[.005082,8.9],
  [.004672,11.3],[.004831,11.3],[.004934,11.3],[.004842,13.8],[.004899,16.1],[.004747,15.8],[.004747,17.7],[.004577,17.7],[.00452,16.1],
  [.004653,15.0],[.004729,19.2],[.004558,19.6],[.004482,19.2],[.004767,21.2],
  [.004406,21.2],[.004349,22.7],[.004178,22.9],[.00414,20.0],[.004228,17.9],[.004311,17.1],[.004083,16.9],[.004046,15.8],[.004216,15.0],
  [.004425,14.6],[.004311,13.8],[.004129,11.9],[.004205,11.3],[.004349,10.2],[.00433,8.1],[.004319,5.8],[.00414,7.9],[.004027,8.0],
  [.003989,5.4],[.003962,10.0],[.00381,6.5],[.004072,12.5],[.004008,19.6],[.004065,21.7]
];

// x >= 0.0062
const farPoints = [
  [.006253,46.6],[.006258,46.7],[.006423,46.6],[.010672,49.2],[.010597,45.0],[.009394,45.1],[.00683,43.7],[.00773,42.6],
  [.006261,39.9],[.007535,39.3],[.00739,38.1],[.008469,39.3],[.006286,36.0],[.008104,36.5],[.009531,37.2],[.010494,36.5],
  [.00705,32.6],[.007407,33.3],[.008929,33.5],[.009071,32.1],[.010079,32.7],[.010183,33.3],
  [.006228,28.0],[.006983,28.8],[.007726,28.4],[.008452,29.6],[.008178,27.7],[.008286,26.5],[.010378,26.9],[.010037,25.3],
  [.006643,24.0],[.007183,23.4],[.008929,23.5],[.009676,22.7],[.01007,21.0],[.01024,20.5],
  [.006564,21.6],[.006739,21.8],[.006876,21.2],[.006423,20.5],[.006519,20.1],[.006378,19.5],[.006959,19.1],[.007191,19.7],
  [.006747,18.3],[.007158,17.7],[.008224,19.8],[.008552,18.1],[.008485,16.7],[.009133,19.1],[.009444,19.8],
  [.006315,15.5],[.006896,16.0],[.0071,15.5],[.007141,15.1],[.007286,14.5],[.007444,13.9],[.007668,14.0],
  [.006398,13.1],[.006639,11.8],[.006676,11.0],[.007216,12.1],[.008369,13.6],[.009651,14.0],[.011075,12.7],[.012423,5.7]
];

const allPoints = [
  ...corePointsA, ...corePointsB, ...corePointsC, ...corePointsD, ...corePointsE, ...corePointsF,
  ...midPoints, ...eastPoints, ...farPoints, ...upperPoints,
];

export default function App() {
  const ref = useRef<HTMLDivElement>(null);

  useEffect(() => {
    if (!ref.current) return;
    const chart = echarts.init(ref.current, null, { renderer: "svg" });

    const bandData = smoothX.map((x, i) => [x, smoothLower[i], smoothUpper[i]]);

    const option: any = {
      animation: false,
      backgroundColor: "#FFFFFF",
      grid: {
        left: 204,
        top: 24,
        right: -46,
        bottom: 116,
        containLabel: false,
        outerBoundsMode: "none",
        show: false,
      },
      xAxis: [
        {
          type: "value",
          position: "bottom",
          min: X_LIMITS[0],
          max: X_LIMITS[1],
          axisLine: { show: true, onZero: false, lineStyle: { color: "#333333", width: 2.4 } },
          axisTick: { show: true, customValues: X_TICKS, length: 11, lineStyle: { color: "#333333", width: 4.5 } },
          axisLabel: {
            customValues: X_TICKS,
            formatter: (v: number) => v.toFixed(3),
            color: "#4D4D4D",
            fontSize: 40,
            fontFamily: FONT,
            margin: 16,
          },
          splitLine: { show: true, lineStyle: { color: "#EBEBEB", width: 4.6 } },
          name: "Mental Health Providers",
          nameLocation: "middle",
          nameGap: 63,
          nameTextStyle: { color: "#000000", fontSize: 50, fontFamily: FONT },
        },
        {
          type: "value",
          position: "top",
          min: X_LIMITS[0],
          max: X_LIMITS[1],
          axisLine: { show: true, onZero: false, lineStyle: { color: "#333333", width: 2.4 } },
          axisTick: { show: false, customValues: X_MINOR },
          axisLabel: { show: false, customValues: X_MINOR },
          splitLine: { show: true, lineStyle: { color: "#EBEBEB", width: 2.3 } },
        },
      ],
      yAxis: [
        {
          type: "value",
          position: "left",
          min: Y_LIMITS[0],
          max: Y_LIMITS[1],
          axisLine: { show: true, onZero: false, lineStyle: { color: "#333333", width: 2.4 } },
          axisTick: { show: true, customValues: Y_TICKS, length: 11, lineStyle: { color: "#333333", width: 4.5 } },
          axisLabel: {
            customValues: Y_TICKS,
            formatter: (v: number) => String(v),
            color: "#4D4D4D",
            fontSize: 40,
            fontFamily: FONT,
            margin: 21,
          },
          splitLine: { show: true, lineStyle: { color: "#EBEBEB", width: 4.6 } },
          name: "Drug Overdose Deaths",
          nameLocation: "middle",
          nameRotate: 90,
          nameGap: 104,
          nameTextStyle: { color: "#000000", fontSize: 50, fontFamily: FONT },
        },
        {
          type: "value",
          position: "right",
          min: Y_LIMITS[0],
          max: Y_LIMITS[1],
          axisLine: { show: false },
          axisTick: { show: false, customValues: Y_MINOR },
          axisLabel: { show: false, customValues: Y_MINOR },
          splitLine: { show: true, lineStyle: { color: "#EBEBEB", width: 2.3 } },
        },
      ],
      series: [
        {
          type: "scatter",
          xAxisIndex: 0,
          yAxisIndex: 0,
          data: allPoints,
          symbol: "circle",
          symbolSize: 17.5,
          itemStyle: {
            color: "rgba(255,0,0,0.4)",
            borderColor: "rgba(255,0,0,0.4)",
            borderWidth: 2,
          },
          emphasis: { disabled: true },
          silent: true,
          z: 2,
        },
        {
          type: "custom",
          xAxisIndex: 0,
          yAxisIndex: 0,
          data: bandData,
          encode: { x: 0, y: 1 },
          silent: true,
          z: 3,
          renderItem: (params: any, api: any) => {
            if (params.dataIndex !== 0) return null;
            const top = smoothX.map((x, i) => api.coord([x, smoothUpper[i]]));
            const bottom = smoothX.map((x, i) => api.coord([x, smoothLower[i]])).reverse();
            return {
              type: "polygon",
              shape: { points: top.concat(bottom) },
              style: { fill: "rgba(153,153,153,0.45)", stroke: "none" },
            };
          },
        },
        {
          type: "line",
          xAxisIndex: 0,
          yAxisIndex: 0,
          data: smoothX.map((x, i) => [x, smoothY[i]]),
          showSymbol: false,
          smooth: 0.35,
          lineStyle: { color: "#3366FF", width: 7.5 },
          silent: true,
          z: 4,
        },
      ],
    };

    chart.setOption(option);
    return () => chart.dispose();
  }, []);

  return (
    <div
      ref={ref}
      style={{ position: "absolute", left: 0, top: 0, width: 1766, height: 1267, background: "#FFFFFF" }}
    />
  );
}
